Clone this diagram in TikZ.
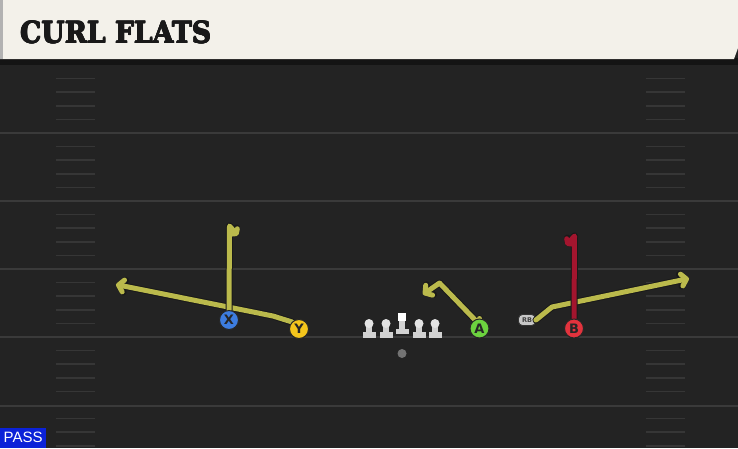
\documentclass[tikz,border=0pt]{standalone}
\usepackage{fontspec}
\newfontfamily\titlefont{DejaVu Serif}
\newfontfamily\lblfont{DejaVu Sans}
\newfontfamily\passfont{Liberation Sans}
\usetikzlibrary{arrows.meta}
\definecolor{field}{HTML}{232323}
\definecolor{yardline}{HTML}{3A3A3A}
\definecolor{hash}{HTML}{363636}
\definecolor{cream}{HTML}{F3F1EA}
\definecolor{routey}{HTML}{BBBA4C}
\definecolor{router}{HTML}{A3152E}
\definecolor{pblue}{HTML}{3D7DE0}
\definecolor{pyellow}{HTML}{F4C51C}
\definecolor{pgreen}{HTML}{6CD23F}
\definecolor{pred}{HTML}{E2333D}
\definecolor{linegray}{HTML}{D2D2D2}
\definecolor{passblue}{HTML}{0B22D8}
\tikzset{
  player/.style={circle, minimum size=19pt, inner sep=0pt, draw=black!85, line width=1pt,
    font=\lblfont\bfseries\fontsize{13}{13}\selectfont, text=black!85},
  routebase/.style={line width=5pt, line join=round, line cap=round,
    preaction={draw=black!90, line width=7pt, line join=round, line cap=round}},
  yroute/.style={routebase, draw=routey},
  rroute/.style={routebase, draw=router},
  tipA/.style={-{Straight Barb[length=5pt,width=12pt,line join=round,line cap=round]}},
  tipS/.style={-{Straight Barb[length=3pt,width=8pt,line join=round,line cap=round]}},
  lman/.style={fill=linegray, draw=none},
  titletext/.style={anchor=base west, inner sep=0pt, text=black!90},
}
\newcommand{\titlebox}{\resizebox{191pt}{22pt}{\titlefont\bfseries CURL FLATS}}
\begin{document}
\begin{tikzpicture}[x=1pt,y=-1pt]
\useasboundingbox (0,0) rectangle (738,448);
% field
\fill[field] (0,0) rectangle (738,448);
% hash marks
\foreach \k in {1,...,28}{
  \pgfmathtruncatemacro{\r}{mod(\k,5)}
  \ifnum\r>0
  \pgfmathsetmacro{\yy}{65+13.6*\k}
  \draw[hash, line width=1.5pt] (56,\yy) -- (95,\yy);
  \draw[hash, line width=1.5pt] (646,\yy) -- (685,\yy);
  \fi
}
% yard lines
\foreach \yy in {133,201,269,337,406}{
  \draw[yardline, line width=2pt] (0,\yy) -- (738,\yy);
}
% header
\fill[black!92] (0,58) rectangle (738,65);
\fill[cream] (0,0) -- (738,0) -- (738,48) -- (734,59) -- (0,59) -- cycle;
\fill[black!30] (0,0) rectangle (3,59);
\foreach \dx/\dy in {-0.5/0,0.5/0,0/0.4,0/-0.4,-0.4/0.4,0.4/-0.4}{
  \node[titletext] at (20+\dx,43+\dy) {\titlebox};
}
\node[titletext] (title) at (20,43) {\titlebox};
% linemen
\foreach \xx/\nm in {369/lt,386/lg,419/rg,435/rt}{
  \fill[lman] (\xx-6.5,332) rectangle (\xx+6.5,337.5);
  \fill[lman] (\xx-2.6,324) rectangle (\xx+2.6,333);
  \fill[linegray!60!white] (\xx,323.5) circle (4.5);
  \coordinate (\nm) at (\xx,330);
}
\fill[lman] (395.5,328.5) rectangle (408.5,333.5);
\fill[lman] (399.4,318) rectangle (404.6,329);
\node[fill=white, minimum size=8.5pt, inner sep=0pt] (C) at (402,317) {};
% QB
\node[circle, fill=black!55, minimum size=9pt, inner sep=0pt] (QB) at (402,353.5) {};
% skill players
\node[player, fill=pblue] (X) at (229,320) {X};
\node[player, fill=pyellow] (Y) at (299,329) {Y};
\node[player, fill=pgreen] (A) at (479.5,328.5) {A};
\node[player, fill=pred] (B) at (574,328.5) {B};
\node[rounded corners=4pt, fill=black!22, draw=black!80, line width=0.8pt,
  minimum width=17pt, minimum height=11pt, inner sep=0pt,
  font=\lblfont\bfseries\fontsize{6.5}{6.5}\selectfont, text=black!75] (RB) at (527,320) {RB};
% route waypoints
\coordinate (xtop) at (229.5,226);
\coordinate (xend) at (238,235.5);
\coordinate (ybend) at (273,316);
\coordinate (yend) at (116,284.5);
\coordinate (abend) at (439.5,283);
\coordinate (aend) at (423,294.5);
\coordinate (rbbend) at (552,307);
\coordinate (rbend) at (689,278.5);
\coordinate (btop) at (574.5,236);
\coordinate (bend) at (566,245.5);
% routes
\draw[yroute, tipA] (Y.north west) -- (ybend) -- (yend);
\draw[yroute, tipS] (X.north) -- (xtop) -- (xend);
\draw[yroute, tipA] (A.north) -- ([yshift=-6pt]A.north) -- (abend) -- (aend);
\draw[yroute, tipA] (RB.east) -- (rbbend) -- (rbend);
\draw[rroute, tipS] (B.north) -- (btop) -- (bend);
% redraw players on top
\node[player, fill=pblue] at (X) {X};
\node[player, fill=pyellow] at (Y) {Y};
\node[player, fill=pgreen] at (A) {A};
\node[player, fill=pred] at (B) {B};
% PASS label
\node[anchor=south west, fill=passblue, minimum width=46pt, minimum height=20pt, inner sep=0pt,
  text=white, font=\passfont\fontsize{15}{15}\selectfont] (pass) at (0,448) {PASS};
\end{tikzpicture}
\end{document}
